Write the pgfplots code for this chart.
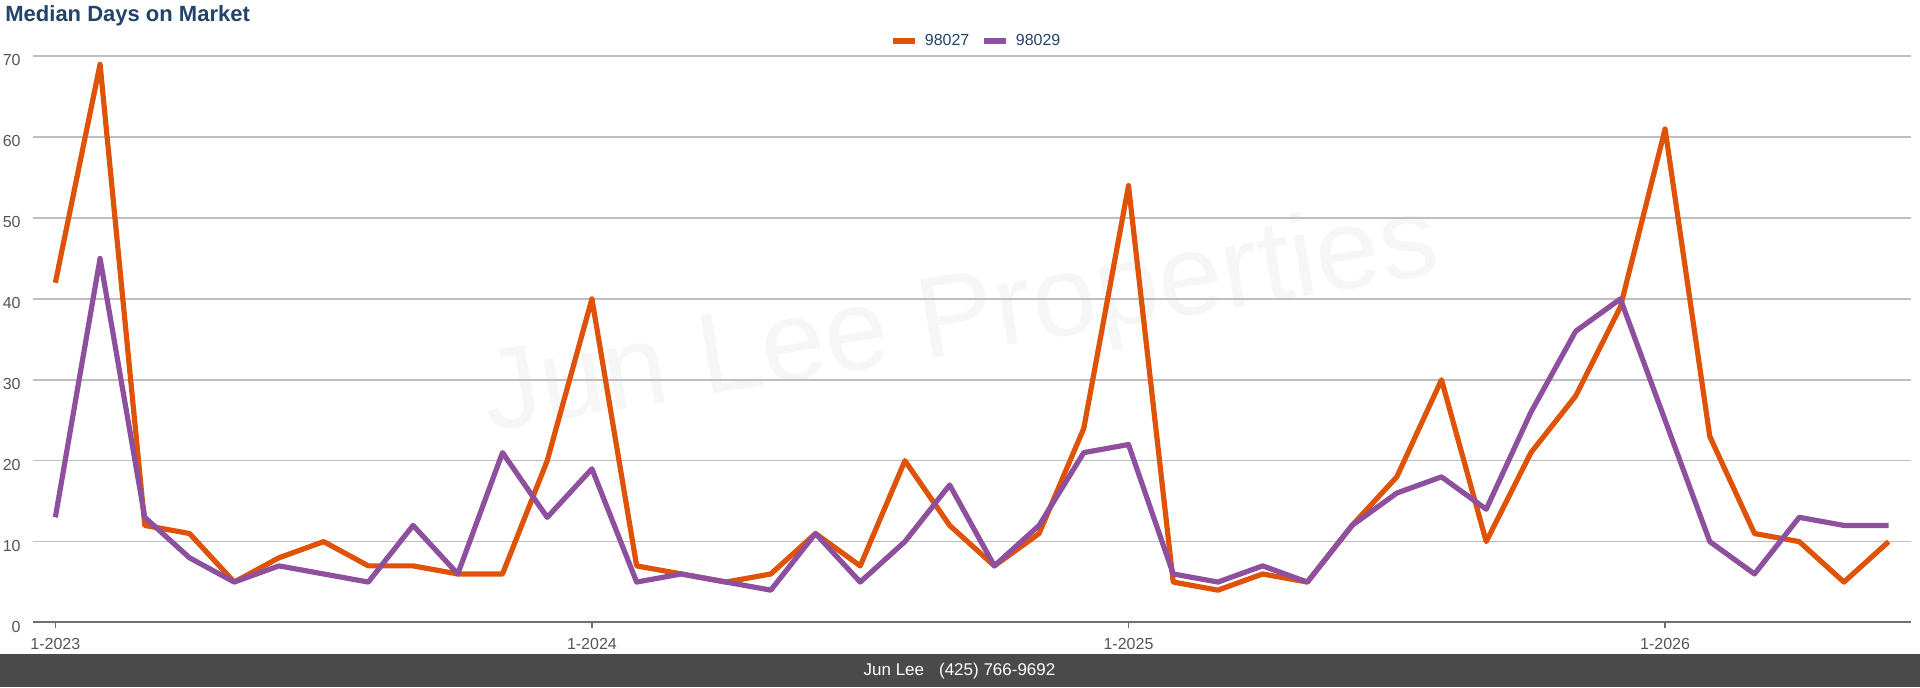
\documentclass[border=0pt]{standalone}
\usepackage{pgfplots}
\pgfplotsset{compat=1.18}
\usepackage{fontspec}
\setmainfont{Liberation Sans}
\definecolor{c27}{RGB}{222,83,7}
\definecolor{c29}{RGB}{142,80,158}
\definecolor{navy}{RGB}{34,68,106}
\definecolor{gridgray}{RGB}{190,190,190}
\definecolor{axgray}{RGB}{110,110,110}
\definecolor{lblgray}{RGB}{85,85,85}
\definecolor{footer}{RGB}{74,74,74}
\definecolor{wm}{RGB}{246,246,246}
\begin{document}
\begin{tikzpicture}[x=1pt,y=1pt]
\useasboundingbox (0,0) rectangle (960,343.5);
\fill[white] (0,0) rectangle (960,343.5);
\node[rotate=9.4, text=wm, font=\fontsize{57.5}{60}\selectfont, inner sep=0pt] at (480.5,182) {Jun Lee Properties};
\node[anchor=base west, inner sep=0pt, text=navy, font=\bfseries\fontsize{11}{13}\selectfont] at (2.5,332.65) {Median Days on Market};
\begin{axis}[
  at={(16.5pt,32.25pt)}, anchor=south west, scale only axis,
  width=939pt, height=283.15pt,
  xmin=-0.5, xmax=41.5, ymin=0, ymax=70,
  axis line style={draw=none},
  ytick={0,10,...,70}, ymajorgrids,
  grid style={line width=0.75pt, gridgray},
  ytick style={draw=none},
  xtick={0,12,24,36}, xticklabels={1-2023,1-2024,1-2025,1-2026},
  xtick pos=left, xtick align=outside, major tick length=2.5pt,
  xtick style={line width=0.75pt, axgray},
  ticklabel style={font=\fontsize{8}{9}\selectfont, text=lblgray},
  /pgf/number format/assume math mode=true,
  yticklabel style={anchor=east, inner sep=0pt, xshift=-6pt, yshift=-2pt},
  xticklabel style={anchor=north, inner sep=0pt, yshift=-5.4pt},
  legend columns=2,
  legend style={draw=none, fill=none, at={(0.5018,1.0265)}, anchor=center,
    font=\fontsize{8}{9}\selectfont, text=navy, nodes={inner sep=0pt},
    /tikz/every odd column/.append style={column sep=3.5pt},
    /tikz/every even column/.append style={column sep=6pt}},
  legend image code/.code={\draw[line width=2.75pt] (0pt,0pt) -- (11pt,0pt);},
]
\draw[line width=1.25pt, axgray] (axis cs:-0.5,0) -- (axis cs:41.5,0);
\addplot[c27, line width=2.6pt, line join=round, mark=none] coordinates {
(0,42)(1,69)(2,12)(3,11)(4,5)(5,8)(6,10)(7,7)(8,7)(9,6)(10,6)(11,20)(12,40)(13,7)(14,6)(15,5)(16,6)(17,11)(18,7)(19,20)(20,12)(21,7)(22,11)(23,24)(24,54)(25,5)(26,4)(27,6)(28,5)(29,12)(30,18)(31,30)(32,10)(33,21)(34,28)(35,39)(36,61)(37,23)(38,11)(39,10)(40,5)(41,10)};
\addlegendentry{98027}
\addplot[c29, line width=2.6pt, line join=round, mark=none] coordinates {
(0,13)(1,45)(2,13)(3,8)(4,5)(5,7)(6,6)(7,5)(8,12)(9,6)(10,21)(11,13)(12,19)(13,5)(14,6)(15,5)(16,4)(17,11)(18,5)(19,10)(20,17)(21,7)(22,12)(23,21)(24,22)(25,6)(26,5)(27,7)(28,5)(29,12)(30,16)(31,18)(32,14)(33,26)(34,36)(35,40)(36,25)(37,10)(38,6)(39,13)(40,12)(41,12)};
\addlegendentry{98029}
\end{axis}
\fill[footer] (0,0) rectangle (960,16.5);
\node[text=white, font=\fontsize{8.5}{10}\selectfont, inner sep=0pt] at (479.75,8) {Jun Lee\hspace{7.5pt}(425) 766-9692};
\end{tikzpicture}
\end{document}
